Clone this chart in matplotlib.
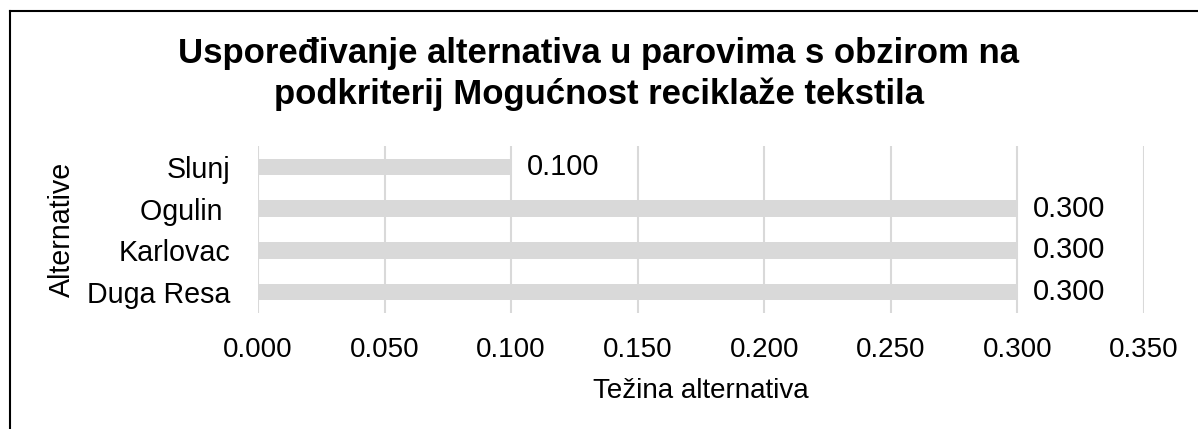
import matplotlib
matplotlib.use("Agg")
import matplotlib.pyplot as plt
from matplotlib.lines import Line2D

categories = ["Duga Resa", "Karlovac", "Ogulin ", "Slunj"]
values = [0.300, 0.300, 0.300, 0.100]
xticks = [0.000, 0.050, 0.100, 0.150, 0.200, 0.250, 0.300, 0.350]
title = "Uspoređivanje alternativa u parovima s obzirom na\npodkriterij Mogućnost reciklaže tekstila"
xlabel = "Težina alternativa"
ylabel = "Alternative"

plt.rcParams['font.family'] = ['Liberation Sans', 'DejaVu Sans']

W, H = 1198, 429
fig = plt.figure(figsize=(W/100, H/100), dpi=100)
ax = fig.add_axes([258/W, 1-313/H, (1144-258)/W, (313-146)/H])

grey = "#D9D9D9"
ypos = list(range(len(categories)))
ax.barh(ypos, values, height=0.4, color=grey, zorder=2)
ax.set_xlim(0, 0.35)
ax.set_ylim(-0.5, len(categories)-0.5)
ax.set_xticks(xticks)
ax.set_xticklabels([f"{v:.3f}" for v in xticks])
ax.set_yticks(ypos)
ax.set_yticklabels(categories)
ax.grid(axis='x', color=grey, linewidth=1.5, zorder=0)
ax.grid(axis='y', visible=False)
for s in ax.spines.values():
    s.set_visible(False)
ax.tick_params(axis='both', length=0, colors='black')
ax.tick_params(axis='x', labelsize=20, pad=17)
ax.tick_params(axis='y', labelsize=20.6, pad=20)

for y, v in zip(ypos, values):
    ax.annotate(f"{v:.3f}", xy=(v, y), xytext=(11, 0), textcoords='offset points',
                va='center', ha='left', fontsize=20.8)

ax.set_xlabel(xlabel, fontsize=20, labelpad=11)
ax.set_ylabel(ylabel, fontsize=20.6, labelpad=8)

fig.text(0.5, 1-74/H, title, ha='center', va='center', fontsize=25, fontweight='bold',
         linespacing=1.28)

fig.add_artist(Line2D([10/W, 10/W], [0, 1-11/H], color='black', linewidth=1.5, transform=fig.transFigure))
fig.add_artist(Line2D([10/W, 1], [1-11/H, 1-11/H], color='black', linewidth=1.5, transform=fig.transFigure))

fig.savefig("out.png", dpi=100)
